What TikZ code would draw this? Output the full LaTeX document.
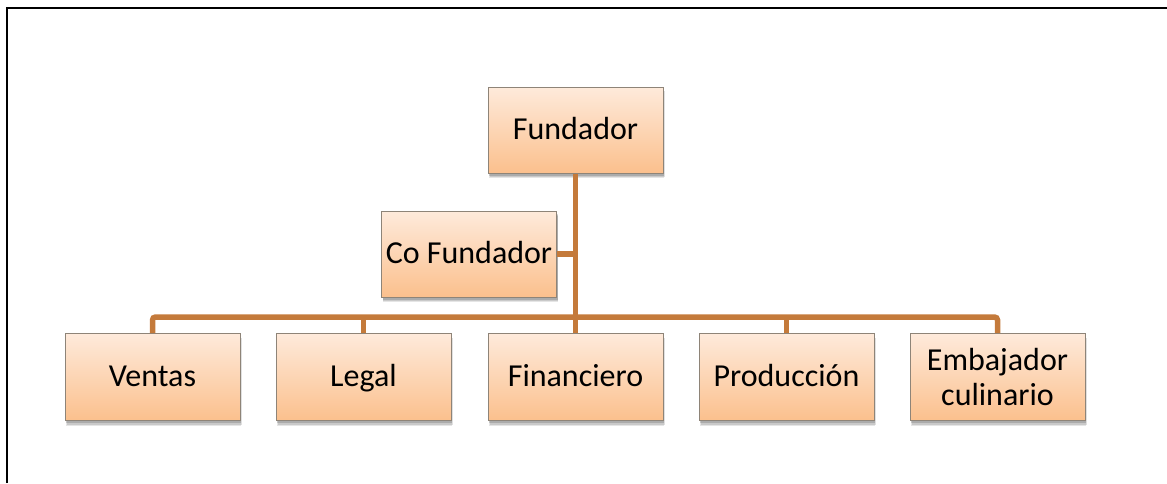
\documentclass[tikz,border=0pt]{standalone}
\usepackage{fontspec}
\setmainfont{Carlito}
\usetikzlibrary{shadows,calc}
\definecolor{boxtop}{HTML}{FEEADB}
\definecolor{boxbot}{HTML}{FBC08D}
\definecolor{boxedge}{HTML}{8E8478}
\definecolor{linkcol}{HTML}{C47A3B}
\tikzset{
  softshadow/.style={
    general shadow={shadow xshift=1pt, shadow yshift=-5pt, opacity=0.10, fill=black},
    general shadow={shadow xshift=1.5pt, shadow yshift=-4pt, opacity=0.12, fill=black},
    general shadow={shadow xshift=1pt, shadow yshift=-2.5pt, opacity=0.15, fill=black}},
  orgbox/.style={draw=boxedge, line width=1pt, top color=boxtop, bottom color=boxbot,
    minimum width=175pt, minimum height=86pt, inner sep=2pt, align=center,
    font=\fontsize{32}{35}\selectfont, softshadow},
  oneline/.style={text height=24pt, text depth=6pt},
  link/.style={draw=linkcol, line width=5.5pt, rounded corners=3pt},
  frameline/.style={draw=black, line width=2.5pt}
}
\begin{document}
\begin{tikzpicture}[x=1pt, y=-1pt]
  \useasboundingbox (0,0) rectangle (1167,483);
  % page frame (top and left edges only)
  \draw[frameline] (7,483) -- (7,8) -- (1167,8);

  % boxes
  \node[orgbox, oneline] (fund) at (575.5,130) {Fundador};
  \node[orgbox, oneline] (cofund) at (469,254) {Co Fundador};
  \node[orgbox, oneline, minimum height=87pt] (ventas) at (152.5,377) {Ventas};
  \node[orgbox, oneline, minimum height=87pt] (legal) at (363.5,377) {Legal};
  \node[orgbox, oneline, minimum height=87pt] (fin) at (575.5,377) {Financiero};
  \node[orgbox, oneline, minimum height=87pt] (prod) at (786.5,377) {Producción};
  \node[orgbox, minimum height=87pt] (emb) at (997.5,377) {Embajador\\culinario};

  % connectors
  \coordinate (bar) at (575.5,317);
  \draw[link] (fund.south) -- (fin.north);
  \draw[link] (ventas.north) |- (bar) -| (emb.north);
  \draw[link] (legal.north) -- (legal.north |- bar);
  \draw[link] (prod.north) -- (prod.north |- bar);
  \draw[link] (cofund.east) -- (cofund.east -| fund.south);
\end{tikzpicture}
\end{document}
